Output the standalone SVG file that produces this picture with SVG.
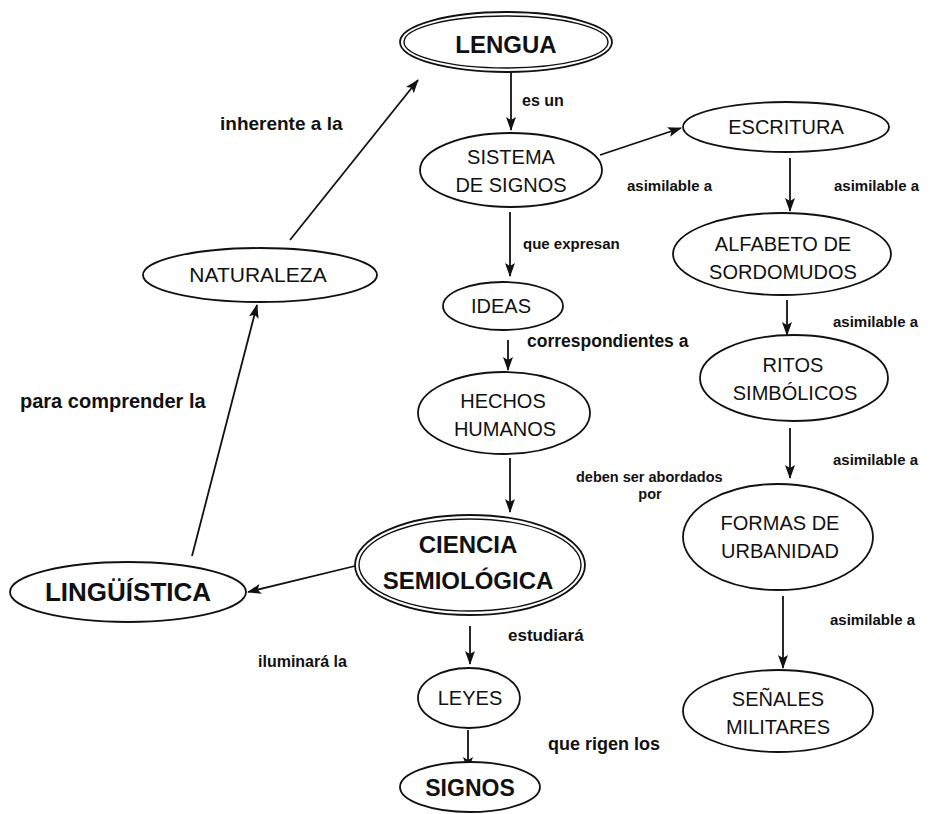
<svg xmlns="http://www.w3.org/2000/svg" width="940" height="814" viewBox="0 0 940 814">
<defs>
<style>
.n{fill:#fff;stroke:#111;stroke-width:1.8}
.d{fill:none;stroke:#111;stroke-width:1.4}
.t{font-family:"Liberation Sans",Arial,sans-serif;font-size:20px;fill:#111;text-anchor:middle}
.b{font-family:"Liberation Sans",Arial,sans-serif;font-size:24px;font-weight:bold;fill:#111;text-anchor:middle}
.l{font-family:"Liberation Sans",Arial,sans-serif;font-size:16px;font-weight:bold;fill:#111}
.a{font-size:15px}
.c{stroke:#111;stroke-width:1.8;fill:none;marker-end:url(#ah)}
</style>
<marker id="ah" viewBox="0 0 14 10" refX="13" refY="5" markerWidth="14" markerHeight="10" markerUnits="userSpaceOnUse" orient="auto">
<path d="M0,0 L14,5 L0,10 L3,5 Z" fill="#111"/>
</marker>
</defs>
<rect width="940" height="814" fill="#fff"/>
<g id="connectors">
<line class="c" x1="511" y1="72" x2="511" y2="130"/>
<line class="c" x1="600" y1="155" x2="681" y2="128"/>
<line class="c" x1="790" y1="158" x2="790" y2="211"/>
<line class="c" x1="787" y1="300" x2="787" y2="335"/>
<line class="c" x1="790" y1="428" x2="790" y2="478"/>
<line class="c" x1="783" y1="596" x2="783" y2="668"/>
<line class="c" x1="510" y1="212" x2="510" y2="276"/>
<line class="c" x1="508" y1="340" x2="508" y2="370"/>
<line class="c" x1="510" y1="458" x2="510" y2="512"/>
<line class="c" x1="355" y1="566" x2="248" y2="592"/>
<line class="c" x1="192" y1="556" x2="257" y2="305"/>
<line class="c" x1="290" y1="240" x2="418" y2="80"/>
<line class="c" x1="470" y1="626" x2="470" y2="664"/>
<line class="c" x1="468" y1="730" x2="468" y2="770"/>
</g>
<g id="labels">
<text class="l" x="522" y="106">es un</text>
<text class="l a" x="627" y="191">asimilable a</text>
<text class="l a" x="834" y="191">asimilable a</text>
<text class="l a" x="523" y="249">que expresan</text>
<text class="l" x="527" y="347" style="font-size:17.5px">correspondientes a</text>
<text class="l a" x="833" y="327">asimilable a</text>
<text class="l a" x="833" y="465">asimilable a</text>
<text class="l" x="576" y="482" style="font-size:14.5px">deben ser abordados</text>
<text class="l" x="650" y="499" style="font-size:14.5px" text-anchor="middle">por</text>
<text class="l a" x="830" y="625">asimilable a</text>
<text class="l" x="258" y="667">iluminará la</text>
<text class="l" x="20" y="408" style="font-size:20px">para comprender la</text>
<text class="l" x="220" y="130" style="font-size:19px">inherente a la</text>
<text class="l" x="508" y="641" style="font-size:17px">estudiará</text>
<text class="l" x="548" y="750" style="font-size:18px">que rigen los</text>
</g>
<g id="lengua">
<ellipse class="n" cx="506" cy="42" rx="106" ry="30"/>
<ellipse class="d" cx="506" cy="42" rx="102" ry="26"/>
<text class="b" x="506" y="53">LENGUA</text>
</g>
<g id="sistema">
<ellipse class="n" cx="511" cy="170" rx="91" ry="37"/>
<text class="t" x="511" y="164">SISTEMA</text>
<text class="t" x="511" y="192">DE SIGNOS</text>
</g>
<g id="escritura">
<ellipse class="n" cx="786" cy="127" rx="103" ry="25"/>
<text class="t" x="786" y="134">ESCRITURA</text>
</g>
<g id="alfabeto">
<ellipse class="n" cx="782" cy="254" rx="109" ry="41"/>
<text class="t" x="783" y="251">ALFABETO DE</text>
<text class="t" x="783" y="279">SORDOMUDOS</text>
</g>
<g id="ritos">
<ellipse class="n" cx="794" cy="378" rx="94" ry="43"/>
<text class="t" x="793" y="372">RITOS</text>
<text class="t" x="795" y="400">SIMBÓLICOS</text>
</g>
<g id="formas">
<ellipse class="n" cx="778" cy="537" rx="95" ry="53"/>
<text class="t" x="780" y="530">FORMAS DE</text>
<text class="t" x="780" y="558">URBANIDAD</text>
</g>
<g id="senales">
<ellipse class="n" cx="778" cy="711" rx="95" ry="41"/>
<text class="t" x="778" y="706">SEÑALES</text>
<text class="t" x="778" y="734">MILITARES</text>
</g>
<g id="ideas">
<ellipse class="n" cx="503" cy="306" rx="60" ry="24"/>
<text class="t" x="501" y="313">IDEAS</text>
</g>
<g id="hechos">
<ellipse class="n" cx="504" cy="413" rx="86" ry="41"/>
<text class="t" x="503" y="408">HECHOS</text>
<text class="t" x="505" y="436">HUMANOS</text>
</g>
<g id="ciencia">
<ellipse class="n" cx="470" cy="565" rx="115" ry="50"/>
<ellipse class="d" cx="470" cy="565" rx="111" ry="46"/>
<text class="b" x="468" y="553">CIENCIA</text>
<text class="b" x="468" y="589">SEMIOLÓGICA</text>
</g>
<g id="linguistica">
<ellipse class="n" cx="128" cy="592" rx="118" ry="30"/>
<text class="b" x="128" y="601" style="font-size:26px">LINGÜÍSTICA</text>
</g>
<g id="naturaleza">
<ellipse class="n" cx="260" cy="275" rx="117" ry="27"/>
<text class="t" x="258" y="282" style="font-size:21px">NATURALEZA</text>
</g>
<g id="leyes">
<ellipse class="n" cx="469" cy="698" rx="51" ry="30"/>
<text class="t" x="470" y="705">LEYES</text>
</g>
<g id="signos">
<ellipse class="n" cx="470" cy="787" rx="70" ry="25"/>
<text class="b" x="470" y="796" style="font-size:23px">SIGNOS</text>
</g>
</svg>
